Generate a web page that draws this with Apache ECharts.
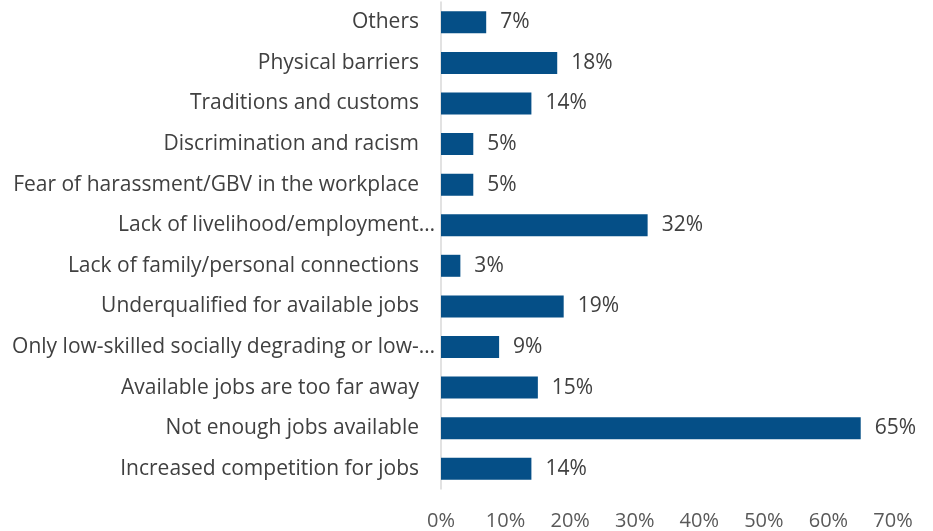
<!DOCTYPE html>
<html>
<head>
<meta charset="utf-8">
<script src="https://cdn.jsdelivr.net/npm/echarts@6/dist/echarts.min.js"></script>
<style>
  html, body { margin: 0; padding: 0; background: #ffffff; }
  #chart { width: 933px; height: 531px; }
</style>
</head>
<body>
<div id="chart"></div>
<script>
// Barriers to employment, listed top to bottom
const categories = [
  'Others',
  'Physical barriers',
  'Traditions and customs',
  'Discrimination and racism',
  'Fear of harassment/GBV in the workplace',
  'Lack of livelihood/employment…',
  'Lack of family/personal connections',
  'Underqualified for available jobs',
  'Only low-skilled socially degrading or low-…',
  'Available jobs are too far away',
  'Not enough jobs available',
  'Increased competition for jobs'
];
// Share of respondents, percent
const shares = [7, 18, 14, 5, 5, 32, 3, 19, 9, 15, 65, 14];
// Value axis ticks
const tickValues = [0, 10, 20, 30, 40, 50, 60, 70];

const chart = echarts.init(document.getElementById('chart'));
const font = '"Open Sans", sans-serif';
const labelText = { color: '#404040', fontFamily: font, fontSize: 21 };

chart.setOption({
  animation: false,
  grid: {
    left: 441, right: 40, top: 2, bottom: 42,
    containLabel: false,
    outerBoundsMode: 'none'
  },
  xAxis: {
    type: 'value',
    min: tickValues[0],
    max: tickValues[tickValues.length - 1],
    interval: 10,
    axisLine: { show: false },
    axisTick: { show: false },
    splitLine: { show: false },
    axisLabel: {
      formatter: v => v + '%',
      color: '#595959',
      fontFamily: font,
      fontSize: 20,
      margin: 22
    }
  },
  yAxis: {
    type: 'category',
    data: categories,
    inverse: true,
    axisLine: { show: true, lineStyle: { color: '#d9d9d9', width: 1.5 } },
    axisTick: { show: false },
    axisLabel: {
      ...labelText,
      margin: 6,
      // shortened labels sit a little further right than the full ones
      formatter: v => v.endsWith('…') ? '{cut|' + v + '}' : '{full|' + v + '}',
      rich: {
        full: { ...labelText, padding: [0, 16, 0, 0] },
        cut: { ...labelText }
      }
    }
  },
  series: [{
    type: 'bar',
    data: shares,
    barWidth: 22,
    itemStyle: { color: '#054f87' },
    label: {
      show: true,
      position: 'right',
      distance: 14,
      formatter: p => p.value + '%',
      ...labelText
    }
  }]
});
</script>
</body>
</html>
